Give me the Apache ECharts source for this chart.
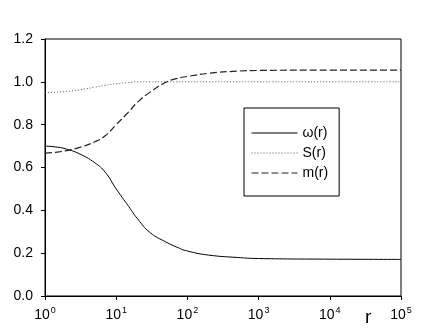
<!DOCTYPE html>
<html lang="en">
<head>
    <meta charset="UTF-8">
    <title>omega S m</title>
    <script src="https://cdn.jsdelivr.net/npm/echarts@6/dist/echarts.min.js"></script>
    <style>
        body { margin: 0; background: #fff; }
    </style>
</head>
<body>
<div id="chartmain" style="width:436px; height:330px;"></div>
</body>
<script type="text/javascript">

    var rValues = [1, 1.5, 2, 3, 5, 7, 10, 15, 20, 30, 50, 70, 100, 200, 500, 1000, 10000, 100000];   // r
    var omega = [0.700, 0.695, 0.686, 0.665, 0.622, 0.578, 0.500, 0.418, 0.360, 0.296, 0.252, 0.229, 0.210, 0.191, 0.180, 0.175, 0.172, 0.171];
    var sVals = [0.950, 0.952, 0.955, 0.962, 0.975, 0.984, 0.991, 0.997, 1.000, 1.000, 1.000, 1.000, 1.000, 1.000, 1.000, 1.000, 1.000, 1.000];
    var mVals = [0.667, 0.672, 0.679, 0.693, 0.720, 0.748, 0.800, 0.860, 0.905, 0.952, 0.998, 1.015, 1.025, 1.040, 1.050, 1.053, 1.055, 1.055];
    var seriesNames = ['ω(r)', 'S(r)', 'm(r)'];

    function pairs(vals) {
        var out = [];
        for (var i = 0; i < rValues.length; i++) {
            out.push([rValues[i], vals[i]]);
        }
        return out;
    }

    var font = 'Liberation Sans, Arial, sans-serif';

    var option = {
        animation: false,
        color: ['#000', '#555', '#222'],
        textStyle: { fontFamily: font },
        grid: {
            left: 45, right: 35, top: 39, bottom: 34,
            show: true, borderColor: '#000', borderWidth: 1
        },
        legend: {
            data: seriesNames,
            orient: 'vertical',
            left: 244, top: 108,
            padding: [18, 11, 16, 7],
            itemGap: 6,
            itemWidth: 46, itemHeight: 14,
            itemStyle: { opacity: 0 },
            lineStyle: { width: 1 },
            borderColor: '#000', borderWidth: 1,
            textStyle: { fontSize: 14, color: '#000', fontFamily: font }
        },
        xAxis: {
            type: 'log',
            logBase: 10,
            min: 1, max: 100000,
            axisLine: { lineStyle: { color: '#000', width: 1 } },
            axisTick: { inside: false, length: 4, lineStyle: { color: '#000' } },
            minorTick: { show: false },
            splitLine: { show: false },
            axisLabel: {
                margin: 10,
                color: '#000',
                formatter: function (v) {
                    var e = Math.round(Math.log10(v));
                    return '{b|10}{s|' + e + '}';
                },
                rich: {
                    b: { fontSize: 14, color: '#000', fontFamily: font },
                    s: { fontSize: 9, color: '#000', fontFamily: font, verticalAlign: 'top', padding: [0, 0, 9, 1] }
                }
            }
        },
        yAxis: {
            type: 'value',
            min: 0, max: 1.2, interval: 0.2,
            axisLine: { show: true, lineStyle: { color: '#000', width: 1 } },
            axisTick: { show: true, inside: false, length: 4, lineStyle: { color: '#000' } },
            splitLine: { show: false },
            axisLabel: {
                margin: 12,
                color: '#000',
                fontSize: 14,
                formatter: function (v) { return v.toFixed(1); }
            }
        },
        graphic: [{
            type: 'text',
            left: 365, top: 308,
            style: { text: 'r', fontSize: 19, fill: '#000', fontFamily: font }
        }],
        series: [{
            name: seriesNames[0],
            type: 'line',
            smooth: true,
            symbol: 'none',
            lineStyle: { color: '#000', width: 1, type: 'solid' },
            data: pairs(omega)
        }, {
            name: seriesNames[1],
            type: 'line',
            smooth: true,
            symbol: 'none',
            lineStyle: { color: '#555', width: 1, type: [1, 2] },
            data: pairs(sVals)
        }, {
            name: seriesNames[2],
            type: 'line',
            smooth: true,
            symbol: 'none',
            lineStyle: { color: '#222', width: 1.2, type: [7, 3] },
            data: pairs(mVals)
        }]
    };

    var myChart = echarts.init(document.getElementById('chartmain'));
    myChart.setOption(option);

</script>
</html>
